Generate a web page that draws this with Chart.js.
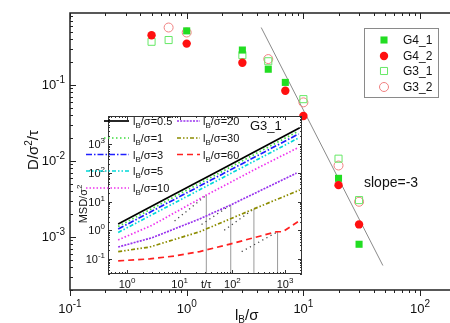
<!DOCTYPE html>
<html><head><meta charset="utf-8">
<script src="https://cdn.jsdelivr.net/npm/chart.js@4/dist/chart.umd.min.js"></script>
<style>
html,body{margin:0;padding:0;background:#fff;overflow:hidden;width:450px;height:323px}
#main{position:absolute;left:0;top:0}
#inset{position:absolute;left:74px;top:106px}
</style></head><body>
<canvas id="main" width="450" height="323"></canvas>
<canvas id="inset" width="236" height="190"></canvas>
<script>
// ---------- main chart data ----------
const lpG4_1 = [1, 3, 5, 7, 20, 30];
const dG4_1  = [0.515, 0.288, 0.161, 0.108, 0.0059, 0.0008];
const lpG4_2 = [0.5, 1, 3, 7, 10, 20, 30];
const dG4_2  = [0.45, 0.35, 0.196, 0.084, 0.039, 0.0048, 0.00146];
const lpG3_1 = [0.5, 0.7, 3, 5, 10, 20, 30];
const dG3_1  = [0.37, 0.39, 0.247, 0.205, 0.065, 0.0107, 0.00305];
const lpG3_2 = [0.7, 1, 5, 10, 20, 30];
const dG3_2  = [0.57, 0.49, 0.219, 0.059, 0.0087, 0.0029];
const slopeLp = [4.35, 48];
const slopeD  = [0.57, 0.00042];
const mainXExp = [-1, 0, 1, 2];
const mainYExp = [-3, -2, -1];
const seriesNames = ['G4_1', 'G4_2', 'G3_1', 'G3_2'];

// ---------- inset data ----------
const lbLabels = ['0.5', '1', '3', '5', '10', '20', '30', '60'];
const t05 = [0.68, 5, 50, 500, 1900];   const m05 = [1.66, 11.6, 110, 1040, 3830];
const t1  = [0.68, 40, 1800];           const m1  = [1.36, 72, 2950];
const t3  = [0.68, 40, 1800];           const m3  = [1.11, 58, 2330];
const t5  = [0.68, 40, 1800];           const m5  = [0.84, 43, 1690];
const t10 = [0.68, 3, 32, 300, 1700];   const m10 = [0.46, 1.5, 17, 150, 750];
const t20 = [0.68, 3, 24, 93, 1650];    const m20 = [0.26, 0.55, 2.5, 7.7, 100];
const t30 = [0.68, 2.7, 24, 256, 1900]; const m30 = [0.179, 0.26, 0.89, 5.6, 25.7];
const t60 = [0.68, 2.7, 8, 24, 90, 690, 910, 1750];
const m60 = [0.085, 0.1, 0.126, 0.18, 0.33, 0.89, 0.89, 2.0];
const guideT = [[8, 32], [26, 93], [70, 256], [150, 720]];
const guideM = [[2.1, 17], [1.6, 7.7], [1.0, 5.6], [0.18, 0.88]];
const markT   = [32, 93, 256, 720];
const markTop = [17, 7.7, 5.6, 0.88];
const insetXExp = [0, 1, 2, 3];
const insetYExp = [-1, 0, 1, 2, 3];

const FONT = "'Liberation Sans', Arial, Helvetica, sans-serif";
const fnt = s => s + 'px ' + FONT;
const pts = (xs, ys) => xs.map((x, i) => ({x: x, y: ys[i]}));

function logTickList(min, max) {
  const out = [];
  for (let d = Math.floor(Math.log10(min)); d <= Math.ceil(Math.log10(max)); d++) {
    for (let m = 1; m <= 9; m++) {
      const v = m * Math.pow(10, d);
      if (v >= min * 0.9999 && v <= max * 1.0001) out.push({v: v, major: m === 1});
    }
  }
  return out;
}
function drawPow(ctx, exp, x, yBase, align, bs, es, rise) {
  const e = String(exp);
  ctx.font = fnt(bs); const wb = ctx.measureText('10').width;
  ctx.font = fnt(es); const we = ctx.measureText(e).width;
  const w = wb + we;
  const x0 = align === 'center' ? x - w / 2 : (align === 'right' ? x - w : x);
  ctx.textAlign = 'left'; ctx.textBaseline = 'alphabetic';
  ctx.font = fnt(bs); ctx.fillText('10', x0, yBase);
  ctx.font = fnt(es); ctx.fillText(e, x0 + wb, yBase - rise);
}
function drawParts(ctx, parts, x, y, align) {
  let w = 0;
  for (const p of parts) { ctx.font = fnt(p[1]); w += ctx.measureText(p[0]).width; }
  let cx = align === 'center' ? x - w / 2 : x;
  ctx.textAlign = 'left'; ctx.textBaseline = 'alphabetic';
  for (const p of parts) {
    ctx.font = fnt(p[1]); ctx.fillText(p[0], cx, y + p[2]);
    cx += ctx.measureText(p[0]).width;
  }
}

// ---------- main chart ----------
const mainDatasets = [
  {label: seriesNames[0], data: pts(lpG4_1, dG4_1), pointStyle: 'rect', pointRadius: 5,
   backgroundColor: '#22dd22', borderColor: '#22dd22', borderWidth: 0, order: 1},
  {label: seriesNames[1], data: pts(lpG4_2, dG4_2), pointStyle: 'circle', pointRadius: 4.2,
   backgroundColor: '#ff1010', borderColor: '#ff1010', borderWidth: 0, order: 0},
  {label: seriesNames[2], data: pts(lpG3_1, dG3_1), pointStyle: 'rect', pointRadius: 5,
   backgroundColor: 'rgba(0,0,0,0)', borderColor: '#66e866', borderWidth: 1, order: 2},
  {label: seriesNames[3], data: pts(lpG3_2, dG3_2), pointStyle: 'circle', pointRadius: 4.5,
   backgroundColor: 'rgba(0,0,0,0)', borderColor: '#f08080', borderWidth: 1, order: 3},
  {label: 'slope', type: 'line', data: pts(slopeLp, slopeD), showLine: true, pointRadius: 0,
   borderColor: '#8a8a8a', borderWidth: 1, order: 5}
];

const mainPlugin = {
  id: 'mainDecor',
  afterDraw(chart) {
    const ctx = chart.ctx, xs = chart.scales.x, ys = chart.scales.y, a = chart.chartArea;
    ctx.save();
    ctx.strokeStyle = '#222'; ctx.lineWidth = 1.5;
    ctx.beginPath();
    ctx.moveTo(a.left, a.top); ctx.lineTo(a.left, a.bottom);
    ctx.moveTo(a.left - 0.75, a.bottom); ctx.lineTo(chart.width, a.bottom);
    ctx.moveTo(a.left - 0.75, a.top); ctx.lineTo(chart.width, a.top);
    ctx.stroke();
    ctx.lineWidth = 1;
    for (const tk of logTickList(xs.min, xs.max)) {
      const px = Math.round(xs.getPixelForValue(tk.v)) + 0.5, L = tk.major ? 6 : 3;
      ctx.beginPath();
      ctx.moveTo(px, a.top); ctx.lineTo(px, a.top + L);
      ctx.moveTo(px, a.bottom); ctx.lineTo(px, a.bottom + L);
      ctx.stroke();
    }
    for (const tk of logTickList(ys.min, ys.max)) {
      const py = Math.round(ys.getPixelForValue(tk.v)) + 0.5, L = tk.major ? 6 : 3;
      ctx.beginPath(); ctx.moveTo(a.left, py); ctx.lineTo(a.left + L, py); ctx.stroke();
    }
    ctx.fillStyle = '#111';
    for (const e of mainXExp) drawPow(ctx, e, xs.getPixelForValue(Math.pow(10, e)), 313, 'center', 13, 10, 6);
    for (const e of mainYExp) drawPow(ctx, e, 65, ys.getPixelForValue(Math.pow(10, e)) + 4.5, 'right', 13, 10, 6);
    ctx.save();
    ctx.translate(33, 150); ctx.rotate(-Math.PI / 2);
    drawParts(ctx, [['D/σ', 15, 0], ['2', 10, -6], ['/τ', 15, 0]], 0, 5, 'center');
    ctx.restore();
    drawParts(ctx, [['l', 15, 0], ['B', 10, 3], ['/σ', 15, 0]], 235, 320, 'left');
    ctx.font = fnt(14); ctx.textAlign = 'left'; ctx.textBaseline = 'middle';
    ctx.fillText('slope=-3', 364, 183);
    // legend
    ctx.strokeStyle = '#8a8a8a'; ctx.lineWidth = 1;
    ctx.strokeRect(364.5, 28.5, 74, 69);
    const rowsY = [40, 56, 71, 87];
    chart.data.datasets.slice(0, 4).forEach((ds, i) => {
      ctx.fillStyle = ds.backgroundColor; ctx.strokeStyle = ds.borderColor; ctx.lineWidth = ds.borderWidth || 1;
      ctx.beginPath();
      if (ds.pointStyle === 'rect') {
        const s = ds.pointRadius * Math.SQRT1_2;
        ctx.rect(384 - s, rowsY[i] - s, 2 * s, 2 * s);
      } else ctx.arc(384, rowsY[i], ds.pointRadius, 0, Math.PI * 2);
      ctx.fill(); if (ds.borderWidth) ctx.stroke();
      ctx.fillStyle = '#111'; ctx.font = fnt(12); ctx.textAlign = 'left'; ctx.textBaseline = 'middle';
      ctx.fillText(ds.label, 403, rowsY[i] + 0.5);
    });
    ctx.restore();
  }
};

new Chart(document.getElementById('main'), {
  type: 'scatter',
  data: {datasets: mainDatasets},
  options: {
    responsive: false, animation: false, devicePixelRatio: 1,
    layout: {padding: {left: 70, top: 13, right: 0, bottom: 33}},
    plugins: {legend: {display: false}, tooltip: {enabled: false}},
    scales: {
      x: {type: 'logarithmic', min: 0.1, max: 160.3, display: false},
      y: {type: 'logarithmic', min: 2e-4, max: 0.885, display: false}
    }
  },
  plugins: [mainPlugin]
});

// ---------- inset chart ----------
const insetStyles = [
  {t: t05, m: m05, color: '#000000', dash: [], w: 1.7},
  {t: t1,  m: m1,  color: '#3ddd3d', dash: [1.5, 2.5], w: 1.7},
  {t: t3,  m: m3,  color: '#1f1fff', dash: [6, 2, 1.5, 2], w: 1.7},
  {t: t5,  m: m5,  color: '#00d8d8', dash: [4, 2, 1.5, 2, 1.5, 2], w: 1.7},
  {t: t10, m: m10, color: '#ee33ee', dash: [1.5, 2], w: 1.7},
  {t: t20, m: m20, color: '#9933ee', dash: [2, 1.2], w: 1.7},
  {t: t30, m: m30, color: '#8c8c00', dash: [4, 2, 1.5, 2, 1.5, 2], w: 1.7},
  {t: t60, m: m60, color: '#ff2020', dash: [6, 4], w: 1.7}
];
const insetDatasets = insetStyles.map((s, i) => ({
  label: 'lB/σ=' + lbLabels[i], data: pts(s.t, s.m), showLine: true, pointRadius: 0,
  borderColor: s.color, borderDash: s.dash, borderWidth: s.w, fill: false
}));
guideT.forEach((g, i) => insetDatasets.push({
  label: 'guide' + i, data: pts(g, guideM[i]), showLine: true, pointRadius: 0,
  borderColor: '#444', borderDash: [1.2, 3.5], borderWidth: 1.3
}));
markT.forEach((t, i) => insetDatasets.push({
  label: 'mark' + i, data: pts([t, t], [0.0296, markTop[i]]), showLine: true, pointRadius: 0,
  borderColor: '#9a9a9a', borderWidth: 1
}));

const insetPlugin = {
  id: 'insetDecor',
  beforeDatasetsDraw(chart) {
    const ctx = chart.ctx, a = chart.chartArea;
    ctx.save(); ctx.fillStyle = '#fff';
    ctx.fillRect(a.left, a.top, a.right - a.left, a.bottom - a.top);
    ctx.restore();
  },
  afterDraw(chart) {
    const ctx = chart.ctx, xs = chart.scales.x, ys = chart.scales.y, a = chart.chartArea;
    ctx.save();
    ctx.strokeStyle = '#333'; ctx.lineWidth = 1;
    ctx.strokeRect(a.left + 0.5, a.top + 0.5, a.right - a.left - 1, a.bottom - a.top - 1);
    for (const tk of logTickList(xs.min, xs.max)) {
      const px = Math.round(xs.getPixelForValue(tk.v)) + 0.5, L = tk.major ? 4 : 2;
      ctx.beginPath();
      ctx.moveTo(px, a.top); ctx.lineTo(px, a.top + L);
      ctx.moveTo(px, a.bottom); ctx.lineTo(px, a.bottom - L);
      ctx.stroke();
    }
    for (const tk of logTickList(ys.min, ys.max)) {
      const py = Math.round(ys.getPixelForValue(tk.v)) + 0.5, L = tk.major ? 4 : 2;
      ctx.beginPath();
      ctx.moveTo(a.left, py); ctx.lineTo(a.left + L, py);
      ctx.moveTo(a.right, py); ctx.lineTo(a.right - L, py);
      ctx.stroke();
    }
    ctx.fillStyle = '#111';
    for (const e of insetXExp) drawPow(ctx, e, xs.getPixelForValue(Math.pow(10, e)), 182, 'center', 11, 8, 5);
    for (const e of insetYExp) drawPow(ctx, e, 31, ys.getPixelForValue(Math.pow(10, e)) + 4, 'right', 11, 8, 5);
    ctx.font = fnt(11); ctx.textAlign = 'left'; ctx.textBaseline = 'alphabetic';
    ctx.fillText('t/τ', 127, 182);
    ctx.save();
    ctx.translate(9, 98); ctx.rotate(-Math.PI / 2);
    drawParts(ctx, [['MSD/σ', 11, 0], ['2', 8, -5]], 0, 4, 'center');
    ctx.restore();
    ctx.font = fnt(13); ctx.fillText('G3_1', 176, 24);
    const pos = [
      {x0: 30, x1: 55, tx: 59, y: 15}, {x0: 30, x1: 55, tx: 59, y: 32},
      {x0: 12, x1: 55, tx: 59, y: 48.5}, {x0: 12, x1: 55, tx: 59, y: 65},
      {x0: 12, x1: 55, tx: 59, y: 82},
      {x0: 103, x1: 126, tx: 129, y: 15}, {x0: 103, x1: 126, tx: 129, y: 32},
      {x0: 103, x1: 126, tx: 129, y: 48.5}
    ];
    insetStyles.forEach((s, i) => {
      const p = pos[i];
      ctx.strokeStyle = s.color; ctx.lineWidth = s.w; ctx.setLineDash(s.dash);
      ctx.beginPath(); ctx.moveTo(p.x0, p.y); ctx.lineTo(p.x1, p.y); ctx.stroke();
      ctx.setLineDash([]);
      ctx.fillStyle = '#111';
      drawParts(ctx, [['l', 11, 0], ['B', 8, 3], ['/σ=' + lbLabels[i], 11, 0]], p.tx, p.y + 4, 'left');
    });
    ctx.restore();
  }
};

new Chart(document.getElementById('inset'), {
  type: 'scatter',
  data: {datasets: insetDatasets},
  options: {
    responsive: false, animation: false, devicePixelRatio: 1,
    layout: {padding: {left: 34, top: 10, right: 8, bottom: 22}},
    plugins: {legend: {display: false}, tooltip: {enabled: false}},
    scales: {
      x: {type: 'logarithmic', min: 0.436, max: 2093, display: false},
      y: {type: 'logarithmic', min: 0.0296, max: 9920, display: false}
    }
  },
  plugins: [insetPlugin]
});
</script>
</body></html>
